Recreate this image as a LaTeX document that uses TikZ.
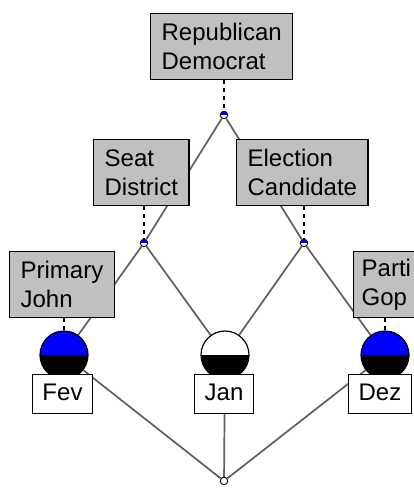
\documentclass[tikz,border=0pt]{standalone}
\usepackage{fontspec}
\setmainfont{Liberation Sans}
\begin{document}
\begin{tikzpicture}[x=1pt,y=-1pt,
  edge/.style={draw={rgb,255:red,95;green,95;blue,95}, line width=1.7pt},
  link/.style={draw=black, line width=1.1pt, dash pattern=on 4pt off 4pt},
  concept/.style={draw=black, fill={rgb,255:red,192;green,192;blue,192}, line width=1.3pt,
    align=left, inner xsep=11pt, inner ysep=7pt, minimum height=66pt, anchor=north west,
    font=\fontsize{24}{29}\selectfont},
  object/.style={draw=black, fill=white, line width=1.3pt, inner xsep=10pt, inner ysep=8pt,
    anchor=north, font=\fontsize{24}{29}\selectfont, text height=18pt, text depth=5pt},
  dot/.style={circle, draw=black, line width=0.9pt, minimum size=7.5pt, inner sep=0pt,
    path picture={\fill[white] (path picture bounding box.south west) rectangle (path picture bounding box.north east);
                  \fill[blue] (path picture bounding box.north west) rectangle (path picture bounding box.east);}},
  ball/.style={circle, draw=black, line width=1.2pt, minimum size=48pt, inner sep=0pt,
    path picture={\fill[black] (path picture bounding box.south west) rectangle (path picture bounding box.north east);
                  \fill[#1] (path picture bounding box.north west) rectangle (path picture bounding box.east);}},
  ball/.default=blue]
\useasboundingbox (0,0) rectangle (414,489);
\fill[white] (0,0) rectangle (414,489);

% lattice vertices
\node[dot] (top) at (224,115) {};
\node[dot] (seat) at (144,243) {};
\node[dot] (elec) at (304,243) {};
\node[ball] (fev) at (64,355) {};
\node[ball=white] (jan) at (225,355) {};
\node[ball] (dez) at (385,355) {};
\node[dot, path picture={}, fill=white] (bot) at (224,481) {};

% order relation
\draw[edge] (top) -- (seat);
\draw[edge] (top) -- (elec);
\draw[edge] (seat) -- (fev);
\draw[edge] (seat) -- (jan);
\draw[edge] (elec) -- (jan);
\draw[edge] (elec) -- (dez);
\draw[edge] (fev) -- (bot);
\draw[edge] (jan) -- (bot);
\draw[edge] (dez) -- (bot);

% attribute labels
\node[concept] (lrep) at (150,13) {Republican\\Democrat};
\node[concept] (lseat) at (93,139) {Seat\\District};
\node[concept] (lelec) at (236,139) {Election\\Candidate};
\node[concept] (lprim) at (9,251) {Primary\\John};
\node[concept, inner xsep=8pt] (lpart) at (353,251) {Parti\\Gop};
\draw[link] (lrep.south -| top) -- (top);
\draw[link] (lseat.south -| seat) -- (seat);
\draw[link] (lelec.south -| elec) -- (elec);
\draw[link] (lprim.south -| fev) -- (fev);
\draw[link] (lpart.south -| dez) -- (dez);

% object labels
\node[object] (lfev) at (62.5,374) {Fev};
\node[object] (ljan) at (224,374) {Jan};
\node[object] (ldez) at (380,374) {Dez};
\end{tikzpicture}
\end{document}
